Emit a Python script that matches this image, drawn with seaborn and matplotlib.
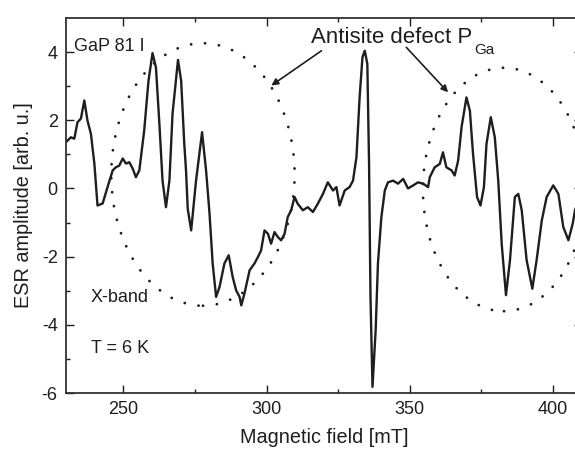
import numpy as np
import pandas as pd
import matplotlib
matplotlib.use("Agg")
import matplotlib.pyplot as plt
from matplotlib.patches import Ellipse
import seaborn as sns

# ESR spectrum of GaP, X-band, T = 6 K
field_mT = [
    230.0, 231.7, 232.9, 234.0, 235.2, 236.4, 237.5, 238.7, 239.9, 241.0,
    242.8, 244.5, 246.3, 247.4, 248.6, 249.8, 250.9, 252.1, 253.3, 254.4,
    255.6, 257.3, 258.8, 260.2, 261.4, 262.6, 263.7, 264.9, 266.1, 267.2,
    269.1, 270.2, 271.3, 271.9, 272.5, 273.7, 275.4, 277.5, 278.9, 280.1,
    281.2, 282.4, 283.6, 285.3, 286.8, 288.2, 289.4, 290.6, 291.2, 292.3,
    294.1, 295.8, 297.0, 298.1, 299.3, 300.5, 301.6, 302.8, 304.0, 305.1,
    306.3, 307.4, 308.6, 309.8, 310.9, 312.7, 314.4, 316.2, 317.9, 319.7,
    321.4, 323.2, 324.4, 325.5, 327.3, 329.0, 330.2, 331.4, 332.5, 333.5,
    334.3, 335.2, 335.8, 336.3, 337.0, 338.1, 338.9, 340.1, 341.3, 342.4,
    344.2, 345.9, 347.7, 349.4, 351.2, 352.9, 354.7, 356.4, 357.0, 358.7,
    360.5, 361.6, 362.8, 364.6, 365.7, 366.9, 368.1, 369.8, 371.0, 372.1,
    373.5, 374.7, 375.9, 376.8, 378.3, 379.7, 380.9, 382.1, 383.6, 385.0,
    386.7, 387.9, 389.1, 390.8, 392.8, 394.3, 396.1, 397.8, 400.1, 401.9,
    403.6, 405.4, 406.9, 407.7, 409.0,
]
amplitude = [
    1.36, 1.50, 1.46, 1.94, 2.05, 2.58, 1.99, 1.60, 0.73, -0.50,
    -0.44, 0.04, 0.53, 0.62, 0.67, 0.88, 0.73, 0.77, 0.58, 0.33,
    0.53, 1.70, 3.16, 3.97, 3.55, 1.90, 0.23, -0.55, 0.23, 2.20,
    3.77, 3.16, 1.30, 0.53, -0.60, -1.23, 0.23, 1.65, 0.53, -0.73,
    -2.20, -3.18, -2.89, -2.20, -1.96, -2.60, -2.99, -3.18, -3.43, -3.08,
    -2.40, -2.20, -2.01, -1.82, -1.23, -1.33, -1.62, -1.28, -1.43, -1.52,
    -1.33, -0.84, -0.64, -0.25, -0.45, -0.64, -0.55, -0.69, -0.45, -0.16,
    0.18, -0.06, 0.04, -0.50, -0.06, 0.04, 0.23, 0.92, 2.67, 3.85,
    4.04, 3.65, 0.72, -3.18, -5.82, -4.16, -2.20, -0.84, -0.06, 0.18,
    0.23, 0.14, 0.28, 0.00, 0.09, 0.18, 0.14, 0.04, 0.33, 0.62,
    0.72, 1.06, 0.62, 0.53, 0.38, 0.82, 1.80, 2.67, 2.28, 1.01,
    -0.25, -0.50, 0.04, 1.31, 2.09, 1.50, 0.23, -1.62, -3.13, -2.10,
    -0.25, -0.16, -0.64, -2.10, -2.94, -2.10, -0.94, -0.25, 0.09, -0.16,
    -1.13, -1.52, -1.03, -0.64, -0.35,
]

x_ticks = [250, 300, 350, 400]
y_ticks = [-6, -4, -2, 0, 2, 4]

# Dotted outlines marking the two antisite P_Ga line groups: (center x, center y, width, height)
group_left = (277.8, 0.41, 64.0, 7.7)
group_right = (382.9, -0.03, 56.6, 7.14)

sns.set_theme(style="ticks")
plt.rcParams["font.family"] = ["Liberation Sans", "DejaVu Sans"]
plt.rcParams["axes.unicode_minus"] = False
ink = "#1e1e1e"

fig = plt.figure(figsize=(5.75, 4.57), dpi=100)
ax = fig.add_axes([66 / 575, 64 / 457, (581.6 - 66) / 575, (393 - 18) / 457])

df = pd.DataFrame({"field": field_mT, "amp": amplitude})
sns.lineplot(data=df, x="field", y="amp", ax=ax, color=ink, linewidth=1.7,
             estimator=None, sort=False)

for cx, cy, w, h in (group_left, group_right):
    ax.add_patch(Ellipse((cx, cy), w, h, fill=False, edgecolor=ink,
                         linewidth=2.0, linestyle=(0, (0.05, 5.0)),
                         capstyle="round", clip_on=False))

ax.set_xticks(x_ticks)
ax.set_yticks(y_ticks)
ax.set_xticks([275, 325, 375], minor=True)
ax.set_yticks(np.arange(-5, 5, 2), minor=True)
ax.set_xlim(230, 410)
ax.set_ylim(-6, 5)
ax.tick_params(which="both", direction="in", top=True, right=True,
               colors=ink, labelsize=13, width=1.0)
ax.tick_params(which="major", length=6, pad=6)
ax.tick_params(which="minor", length=3)
for s in ax.spines.values():
    s.set_linewidth(1.3)
    s.set_color("#333333")

ax.set_xlabel("Magnetic field [mT]", fontsize=14.3, color=ink, labelpad=7)
ax.set_ylabel("ESR amplitude [arb. u.]", fontsize=14.3, color=ink, labelpad=6)

ax.text(232.9, 4.04, "GaP 81 I", fontsize=13, color=ink, ha="left", va="baseline")
ax.text(238.7, -3.33, "X-band", fontsize=13, color=ink, ha="left", va="baseline")
ax.text(238.7, -4.84, "T = 6 K", fontsize=13, color=ink, ha="left", va="baseline")

title = ax.text(315.6, 4.28, "Antisite defect P", fontsize=16, color=ink,
                ha="left", va="baseline")
ax.annotate("Ga", xy=(1, 0), xycoords=title, xytext=(1.5, -5),
            textcoords="offset points", fontsize=11, color=ink,
            ha="left", va="baseline")

arrow = dict(arrowstyle="-|>", color=ink, lw=1.2, mutation_scale=10,
             shrinkA=0, shrinkB=0)
ax.annotate("", xy=(301.7, 3.02), xytext=(319.2, 4.04), arrowprops=arrow)
ax.annotate("", xy=(363.4, 2.82), xytext=(348.8, 4.14), arrowprops=arrow)

fig.savefig("out.png", dpi=100)
